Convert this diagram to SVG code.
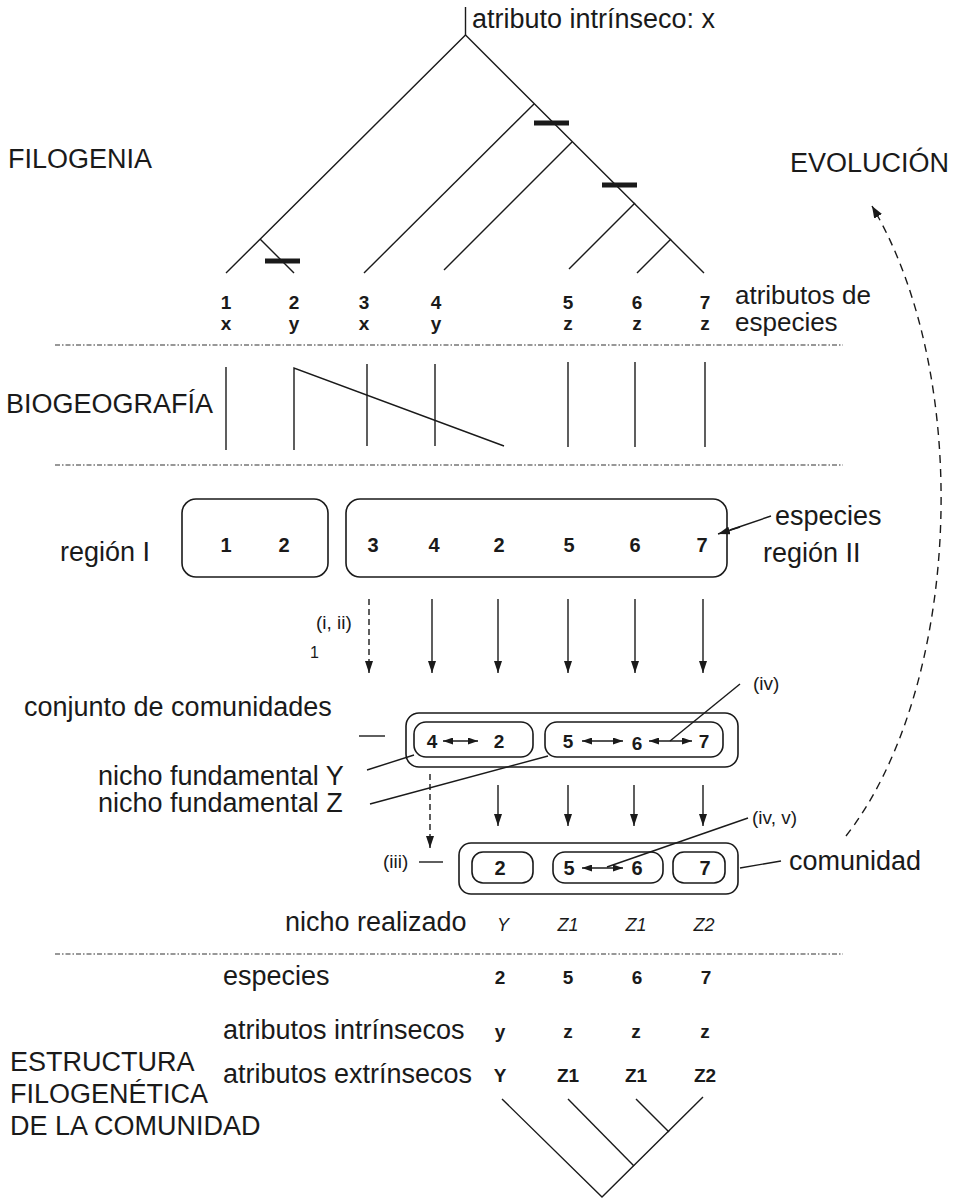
<svg xmlns="http://www.w3.org/2000/svg" width="958" height="1199" viewBox="0 0 958 1199">
  <style>
    text { font-family: "Liberation Sans", Arial, sans-serif; fill: #1a1a1a; }
    .big { font-size: 27px; }
    .mid { font-size: 26px; }
    .sm { font-size: 19px; }
    .num { font-size: 19px; font-weight: bold; text-anchor: middle; }
    .num2 { font-size: 20px; font-weight: bold; text-anchor: middle; }
    .it { font-size: 18px; font-style: italic; text-anchor: middle; }
    .ln { stroke: #1a1a1a; stroke-width: 1.4; fill: none; }
    .bar { fill: #1a1a1a; }
    .sep { stroke: #333; stroke-width: 1.2; stroke-dasharray: 5 2 1.5 2; fill: none; }
    .box { stroke: #1a1a1a; stroke-width: 1.6; fill: none; }
    .arr { stroke: #1a1a1a; stroke-width: 1.4; fill: none; marker-end: url(#ah); }
    .darr { stroke: #1a1a1a; stroke-width: 1.4; fill: none; stroke-dasharray: 6 4; marker-end: url(#ah); }
    .dbl { stroke: #1a1a1a; stroke-width: 1.4; fill: none; marker-start: url(#sh); marker-end: url(#sh); }
  </style>
  <defs>
    <marker id="ah" viewBox="0 0 12 8" refX="12" refY="4" markerWidth="12" markerHeight="8" markerUnits="userSpaceOnUse" orient="auto">
      <path d="M0,0 L12,4 L0,8 z" fill="#1a1a1a"/>
    </marker>
    <marker id="sh" viewBox="0 0 10 7" refX="10" refY="3.5" markerWidth="10" markerHeight="7" markerUnits="userSpaceOnUse" orient="auto-start-reverse">
      <path d="M0,0 L10,3.5 L0,7 z" fill="#1a1a1a"/>
    </marker>
    <marker id="eh" viewBox="0 0 12 9" refX="12" refY="4.5" markerWidth="12" markerHeight="9" markerUnits="userSpaceOnUse" orient="auto">
      <path d="M0,0 L12,4.5 L0,9 z" fill="#1a1a1a"/>
    </marker>
  </defs>

  <!-- section titles -->
  <g id="section-labels">
    <text class="big" x="8" y="168">FILOGENIA</text>
    <text class="big" x="790" y="172">EVOLUCIÓN</text>
    <text class="big" x="6" y="413">BIOGEOGRAFÍA</text>
    <text class="big" x="10" y="1071">ESTRUCTURA</text>
    <text class="big" x="10" y="1103">FILOGENÉTICA</text>
    <text class="big" x="10" y="1135">DE LA COMUNIDAD</text>
  </g>

  <!-- dash-dot separators between sections -->
  <g id="separators">
    <line class="sep" x1="55" y1="345" x2="843" y2="345"/>
    <line class="sep" x1="55" y1="465" x2="843" y2="465"/>
    <line class="sep" x1="55" y1="954" x2="843" y2="954"/>
  </g>

  <!-- phylogeny of the regional pool -->
  <g id="phylogeny">
    <line class="ln" x1="465.5" y1="7" x2="465.5" y2="35"/>
    <text class="big" x="472" y="28">atributo intrínseco: x</text>
    <polyline class="ln" points="226,273 465.5,35 704,273"/>
    <line class="ln" x1="260" y1="239" x2="294" y2="273"/>
    <line class="ln" x1="534" y1="104" x2="364" y2="273"/>
    <line class="ln" x1="572" y1="142" x2="444" y2="270"/>
    <line class="ln" x1="635" y1="203" x2="569" y2="269"/>
    <line class="ln" x1="671" y1="239" x2="637" y2="273"/>
    <rect class="bar" x="265" y="258.5" width="35" height="5"/>
    <rect class="bar" x="534" y="120.5" width="35" height="5"/>
    <rect class="bar" x="602" y="182.5" width="35" height="5"/>
  </g>

  <g id="species-attributes">
    <text class="num" x="226" y="309">1</text>
    <text class="num" x="294" y="309">2</text>
    <text class="num" x="364" y="309">3</text>
    <text class="num" x="436" y="309">4</text>
    <text class="num" x="568" y="309">5</text>
    <text class="num" x="637" y="309">6</text>
    <text class="num" x="705" y="309">7</text>
    <text class="num" x="226" y="330">x</text>
    <text class="num" x="294" y="330">y</text>
    <text class="num" x="364" y="330">x</text>
    <text class="num" x="436" y="330">y</text>
    <text class="num" x="568" y="330">z</text>
    <text class="num" x="637" y="330">z</text>
    <text class="num" x="705" y="330">z</text>
    <text class="mid" x="735" y="304">atributos de</text>
    <text class="mid" x="735" y="331">especies</text>
  </g>

  <!-- distributions -->
  <g id="biogeography">
    <line class="ln" x1="226" y1="367" x2="226" y2="450"/>
    <polyline class="ln" points="294,450 294,368 504,446"/>
    <line class="ln" x1="367" y1="364" x2="367" y2="446"/>
    <line class="ln" x1="435" y1="364" x2="435" y2="446"/>
    <line class="ln" x1="568" y1="362" x2="568" y2="447"/>
    <line class="ln" x1="635" y1="362" x2="635" y2="447"/>
    <line class="ln" x1="705" y1="362" x2="705" y2="447"/>
  </g>

  <!-- regional species pools -->
  <g id="region-I">
    <rect class="box" x="182" y="499" width="146" height="78" rx="14"/>
    <text class="num2" x="226" y="552">1</text>
    <text class="num2" x="284" y="552">2</text>
    <text class="big" x="60" y="561">región I</text>
  </g>
  <g id="region-II">
    <rect class="box" x="346" y="499" width="381" height="78" rx="14"/>
    <text class="num2" x="373" y="552">3</text>
    <text class="num2" x="434" y="552">4</text>
    <text class="num2" x="499" y="552">2</text>
    <text class="num2" x="569" y="552">5</text>
    <text class="num2" x="635" y="552">6</text>
    <text class="num2" x="702" y="552">7</text>
    <text class="big" x="763" y="562">región II</text>
    <text class="big" x="775" y="525">especies</text>
  </g>

  <g id="filter-labels">
    <text class="sm" x="316" y="629">(i, ii)</text>
    <text x="310" y="658" font-size="16">1</text>
    <text class="big" x="24" y="716">conjunto de comunidades</text>
    <text class="big" x="98" y="785">nicho fundamental Y</text>
    <text class="big" x="98" y="812">nicho fundamental Z</text>
    <text class="sm" x="753" y="690">(iv)</text>
    <text class="sm" x="752" y="824">(iv, v)</text>
    <text class="sm" x="383" y="868">(iii)</text>
    <text class="big" x="789" y="870">comunidad</text>
    <text class="big" x="285" y="931">nicho realizado</text>
  </g>

  <!-- community pool -->
  <g id="community-pool">
    <rect class="box" x="406" y="713" width="332" height="54" rx="13"/>
    <rect class="box" x="414" y="722" width="119" height="35" rx="12"/>
    <rect class="box" x="545" y="722" width="178" height="35" rx="12"/>
    <text class="num" x="432" y="748">4</text>
    <text class="num" x="499" y="748">2</text>
    <text class="num" x="568" y="748">5</text>
    <text class="num" x="637" y="750">6</text>
    <text class="num" x="704" y="748">7</text>
  </g>

  <!-- local community -->
  <g id="community">
    <rect class="box" x="459" y="843" width="279" height="51" rx="12"/>
    <rect class="box" x="472" y="852" width="61" height="31" rx="11"/>
    <rect class="box" x="553" y="852" width="110" height="31" rx="12"/>
    <rect class="box" x="673" y="852" width="52" height="31" rx="11"/>
    <text class="num2" x="500" y="875">2</text>
    <text class="num2" x="569" y="875">5</text>
    <text class="num2" x="637" y="875">6</text>
    <text class="num2" x="705" y="875">7</text>
  </g>

  <g id="realized-niche">
    <text class="it" x="503" y="931">Y</text>
    <text class="it" x="568" y="931">Z1</text>
    <text class="it" x="636" y="931">Z1</text>
    <text class="it" x="704" y="931">Z2</text>
  </g>

  <!-- community phylogenetic structure table -->
  <g id="structure-table">
    <text class="big" x="223" y="985">especies</text>
    <text class="big" x="223" y="1039" font-size="28">atributos intrínsecos</text>
    <text class="big" x="223" y="1083" font-size="28">atributos extrínsecos</text>
    <text class="num" x="500" y="984">2</text>
    <text class="num" x="568" y="984">5</text>
    <text class="num" x="637" y="984">6</text>
    <text class="num" x="706" y="984">7</text>
    <text class="num" x="500" y="1038">y</text>
    <text class="num" x="568" y="1038">z</text>
    <text class="num" x="636" y="1038">z</text>
    <text class="num" x="705" y="1038">z</text>
    <text class="num" x="500" y="1082">Y</text>
    <text class="num" x="568" y="1082">Z1</text>
    <text class="num" x="636" y="1082">Z1</text>
    <text class="num" x="705" y="1082">Z2</text>
  </g>

  <g id="community-tree">
    <polyline class="ln" points="502,1099 602,1197 703,1097"/>
    <line class="ln" x1="568" y1="1099" x2="634" y2="1166"/>
    <line class="ln" x1="636" y1="1099" x2="669" y2="1132"/>
  </g>

  <!-- connectors -->
  <g id="connectors">
    <line class="ln" x1="771" y1="516" x2="730" y2="530"/>
    <line class="arr" x1="740" y1="527" x2="718" y2="534"/>
    <line class="darr" x1="369" y1="599" x2="369" y2="673"/>
    <line class="arr" x1="432" y1="599" x2="432" y2="673"/>
    <line class="arr" x1="498" y1="599" x2="498" y2="673"/>
    <line class="arr" x1="568" y1="599" x2="568" y2="673"/>
    <line class="arr" x1="635" y1="599" x2="635" y2="673"/>
    <line class="arr" x1="703" y1="599" x2="703" y2="673"/>
    <line class="ln" x1="359" y1="736" x2="385" y2="736" stroke-width="2.2"/>
    <line class="ln" x1="367" y1="770" x2="414" y2="755"/>
    <line class="ln" x1="370" y1="804" x2="548" y2="756"/>
    <line class="dbl" x1="443" y1="741" x2="478" y2="741"/>
    <line class="dbl" x1="582" y1="741" x2="623" y2="741"/>
    <line class="dbl" x1="649" y1="741" x2="692" y2="741"/>
    <line class="ln" x1="740" y1="684" x2="670" y2="741"/>
    <line class="darr" x1="430" y1="774" x2="430" y2="848"/>
    <line class="arr" x1="498" y1="785" x2="498" y2="826"/>
    <line class="arr" x1="568" y1="785" x2="568" y2="826"/>
    <line class="arr" x1="634" y1="785" x2="634" y2="826"/>
    <line class="arr" x1="703" y1="785" x2="703" y2="826"/>
    <line class="ln" x1="419" y1="862" x2="443" y2="862" stroke-width="2.2"/>
    <line class="dbl" x1="582" y1="868" x2="623" y2="868"/>
    <line class="ln" x1="748" y1="818" x2="607" y2="867"/>
    <line class="ln" x1="740" y1="868" x2="781" y2="861"/>
    <path d="M846,836 C960,690 975,380 872,206" fill="none" stroke="#1a1a1a" stroke-width="1.4" stroke-dasharray="8 6" marker-end="url(#eh)"/>
  </g>
</svg>
